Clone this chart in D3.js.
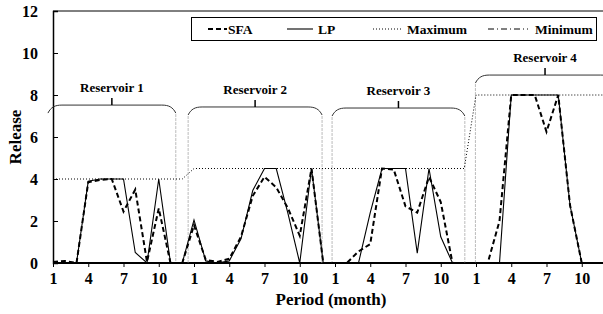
<!DOCTYPE html>
<html>
<head>
<meta charset="utf-8">
<script src="https://cdn.jsdelivr.net/npm/d3@7"></script>
<style>
  body { margin: 0; background: #fff; }
  svg text { font-family: "Times New Roman", "Liberation Serif", serif; font-weight: bold; fill: #000; }
</style>
</head>
<body>
<div id="chart"></div>
<script>
// data (48 months = 4 reservoirs x 12)
const reservoirs = ["Reservoir 1", "Reservoir 2", "Reservoir 3", "Reservoir 4"];
const months = [1, 2, 3, 4, 5, 6, 7, 8, 9, 10, 11, 12];
const monthTicks = [1, 4, 7, 10];
const yTicks = [0, 2, 4, 6, 8, 10, 12];

const sfa = [
    0.05, 0.1, 0, 3.85, 3.95, 4.0, 2.45, 3.5, 0.05, 2.6, 0, 0,
    1.8, 0.15, 0.05, 0.2, 1.25, 3.2, 4.1, 3.6, 2.6, 1.3, 4.5, 0,
    0, 0, 0.55, 0.9, 4.5, 4.45, 2.7, 2.4, 4.1, 2.9, 0, 0,
    0, 0, 2.0, 8.0, 8.0, 8.0, 6.25, 8.0, 2.76, 0, 0, 0
];
const lp = [
    0, 0, 0, 3.9, 4.0, 4.0, 4.0, 0.5, 0, 4.0, 0, 0,
    2.05, 0.1, 0, 0.1, 1.15, 3.45, 4.5, 4.5, 2.35, 0, 4.5, 0,
    0, 0, 0, 2.4, 4.5, 4.5, 4.5, 0.47, 4.5, 1.25, 0, 0,
    0, 0, 0, 8.0, 8.0, 8.0, 8.0, 8.0, 2.76, 0, 0, 0
];
const maxRelease = [
    4, 4, 4, 4, 4, 4, 4, 4, 4, 4, 4, 4,
    4.5, 4.5, 4.5, 4.5, 4.5, 4.5, 4.5, 4.5, 4.5, 4.5, 4.5, 4.5,
    4.5, 4.5, 4.5, 4.5, 4.5, 4.5, 4.5, 4.5, 4.5, 4.5, 4.5, 4.5,
    8, 8, 8, 8, 8, 8, 8, 8, 8, 8, 8, 8
];
const minRelease = [
    0, 0, 0, 0, 0, 0, 0, 0, 0, 0, 0, 0,
    0, 0, 0, 0, 0, 0, 0, 0, 0, 0, 0, 0,
    0, 0, 0, 0, 0, 0, 0, 0, 0, 0, 0, 0,
    0, 0, 0, 0, 0, 0, 0, 0, 0, 0, 0, 0
];

// where the reservoir braces sit, in month-index units (hand placed in the original)
const braceSpan = [[-0.43, 10.45], [11.5, 22.9], [23.75, 35.05], [35.95, 47.8]];
const braceTop = [7.52, 7.43, 7.38, 8.95];

const W = 603, H = 314;
const plot = { left: 53, top: 11, bottom: 263, step: 11.75 };

const svg = d3.select("#chart").append("svg")
    .attr("width", W)
    .attr("height", H);

const n = reservoirs.length * months.length;
const x = d3.scaleLinear().domain([0, n - 1]).range([plot.left, plot.left + (n - 1) * plot.step]);
const y = d3.scaleLinear().domain([0, 12]).range([plot.bottom, plot.top]);

// frame: top border
svg.append("line")
    .attr("x1", plot.left).attr("x2", W)
    .attr("y1", plot.top).attr("y2", plot.top)
    .attr("stroke", "#000").attr("stroke-width", 1);

// y axis (ticks inside)
const yAxis = svg.append("g")
    .attr("transform", `translate(${plot.left},0)`)
    .call(d3.axisRight(y).tickValues(yTicks).tickSize(5).tickFormat(""));
yAxis.select(".domain").attr("stroke-width", 1.5);
yAxis.selectAll("line").attr("stroke-width", 1);

svg.append("g").selectAll("text")
    .data(yTicks)
    .enter().append("text")
    .attr("x", 38)
    .attr("y", d => y(d) + 5.5)
    .attr("text-anchor", "end")
    .attr("font-size", 16)
    .text(d => d);

// x axis: every third month of each reservoir
const idx = d3.range(n);
const tickIdx = idx.filter(i => monthTicks.includes(months[i % 12]));
const xAxis = svg.append("g")
    .attr("transform", `translate(0,${plot.bottom})`)
    .call(d3.axisBottom(x).tickValues(tickIdx).tickSize(4).tickSizeOuter(0)
        .tickFormat(i => months[i % 12]));
xAxis.select(".domain").attr("d", `M${plot.left},0H${W}`).attr("stroke-width", 2);
xAxis.selectAll("text")
    .attr("font-size", 16)
    .attr("dy", "0.85em")
    .attr("fill", "#000")
    .style("font-family", '"Times New Roman", "Liberation Serif", serif')
    .style("font-weight", "bold");

// axis titles
svg.append("text")
    .attr("transform", `translate(21,${(plot.top + plot.bottom) / 2}) rotate(-90)`)
    .attr("text-anchor", "middle")
    .attr("font-size", 17)
    .text("Release");
svg.append("text")
    .attr("x", 331)
    .attr("y", 305)
    .attr("text-anchor", "middle")
    .attr("font-size", 17)
    .text("Period (month)");

// reservoir braces and separators
const braces = svg.append("g");
reservoirs.forEach((name, k) => {
    const x0 = x(braceSpan[k][0]), x1 = x(braceSpan[k][1]);
    const t = y(braceTop[k]);
    const xc = (x0 + x1) / 2;
    braces.append("path")
        .attr("d", `M${x0},${t + 8} C${x0 + 3},${t + 2} ${x0 + 7},${t} ${x0 + 14},${t} H${x1 - 14} C${x1 - 7},${t} ${x1 - 3},${t + 2} ${x1},${t + 8}`)
        .attr("fill", "none")
        .attr("stroke", "#333")
        .attr("stroke-width", 1);
    braces.append("line")
        .attr("x1", xc).attr("x2", xc)
        .attr("y1", t - 7).attr("y2", t)
        .attr("stroke", "#000").attr("stroke-width", 1.5);
    braces.append("text")
        .attr("x", xc)
        .attr("y", t - 13)
        .attr("text-anchor", "middle")
        .attr("font-size", 13)
        .text(name);
    [x0, x1].forEach(xe => {
        if (xe < plot.left || xe > W) return;
        braces.append("line")
            .attr("x1", xe).attr("x2", xe)
            .attr("y1", t + 9).attr("y2", plot.bottom)
            .attr("stroke", "#bbb")
            .attr("stroke-width", 1)
            .attr("stroke-dasharray", "3,1");
    });
});

// series
const series = [
    { name: "SFA", values: sfa, width: 2, dash: "5,3" },
    { name: "LP", values: lp, width: 1.1, dash: null },
    { name: "Maximum", values: maxRelease, width: 1, dash: "1,2" },
    { name: "Minimum", values: minRelease, width: 1, dash: "6,3,1,3" }
];

const line = d3.line()
    .x((d, i) => x(i))
    .y(d => y(d));

svg.append("g").selectAll("path")
    .data(series)
    .enter().append("path")
    .attr("d", d => line(d.values))
    .attr("fill", "none")
    .attr("stroke", "#000")
    .attr("stroke-width", d => d.width)
    .attr("stroke-dasharray", d => d.dash);

// legend
const legend = svg.append("g");
legend.append("rect")
    .attr("x", 191.5).attr("y", 17.5)
    .attr("width", 405).attr("height", 23)
    .attr("fill", "#fff")
    .attr("stroke", "#000")
    .attr("stroke-width", 1);

const legendPos = [
    { x0: 208, x1: 227, tx: 228 },
    { x0: 287, x1: 313, tx: 318 },
    { x0: 373, x1: 402, tx: 407 },
    { x0: 488, x1: 528, tx: 535 }
];
series.forEach((s, i) => {
    const p = legendPos[i];
    legend.append("line")
        .attr("x1", p.x0).attr("x2", p.x1)
        .attr("y1", 29).attr("y2", 29)
        .attr("stroke", "#000")
        .attr("stroke-width", s.width)
        .attr("stroke-dasharray", s.dash);
    legend.append("text")
        .attr("x", p.tx)
        .attr("y", 33.5)
        .attr("font-size", 13.5)
        .text(s.name);
});
</script>
</body>
</html>
